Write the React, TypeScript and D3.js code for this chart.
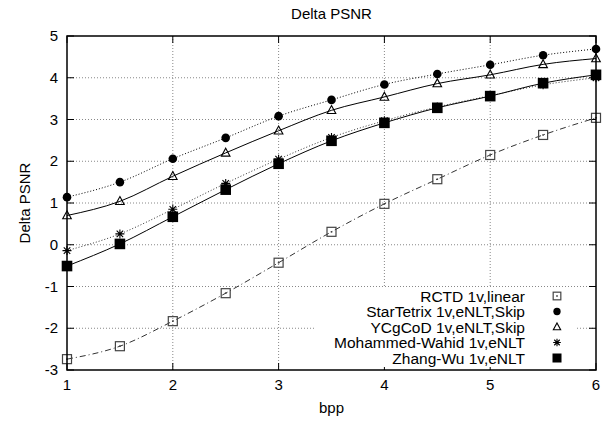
import React, { useRef, useEffect } from "react";
import * as d3 from "d3";

// bpp values shared by all series
const bpp = [1, 1.5, 2, 2.5, 3, 3.5, 4, 4.5, 5, 5.5, 6];

const rctd = [-2.74, -2.43, -1.83, -1.16, -0.43, 0.31, 0.98, 1.57, 2.15, 2.63, 3.04];
const starTetrix = [1.14, 1.5, 2.06, 2.56, 3.08, 3.47, 3.84, 4.09, 4.31, 4.54, 4.69];
const ycgcod = [0.7, 1.04, 1.64, 2.2, 2.73, 3.22, 3.54, 3.86, 4.07, 4.32, 4.46];
const mohammedWahid = [-0.14, 0.26, 0.85, 1.47, 2.05, 2.57, 2.97, 3.3, 3.57, 3.83, 4.0];
const zhangWu = [-0.51, 0.02, 0.67, 1.32, 1.94, 2.49, 2.92, 3.28, 3.56, 3.87, 4.07];

const seriesNames = [
  "RCTD 1v,linear",
  "StarTetrix 1v,eNLT,Skip",
  "YCgCoD 1v,eNLT,Skip",
  "Mohammed-Wahid 1v,eNLT",
  "Zhang-Wu 1v,eNLT",
];

const xTicks = [1, 2, 3, 4, 5, 6];
const yTicks = [-3, -2, -1, 0, 1, 2, 3, 4, 5];

const App = () => {
  const svgRef = useRef<SVGSVGElement | null>(null);

  useEffect(() => {
    const width = 605;
    const height = 422;
    const margin = { top: 36, right: 9, bottom: 52, left: 67 };
    const svg = d3.select(svgRef.current);
    svg.selectAll("*").remove();
    svg.attr("width", width).attr("height", height);

    const font = "'Liberation Sans', Arial, sans-serif";

    const x = d3.scaleLinear().domain([1, 6]).range([margin.left, width - margin.right]);
    const y = d3.scaleLinear().domain([-3, 5]).range([height - margin.bottom, margin.top]);
    const [x0, x1] = x.range();
    const [y0, y1] = y.range();

    svg.append("rect").attr("width", width).attr("height", height).attr("fill", "#fff");

    // grid
    const grid = svg.append("g").attr("stroke", "#888").attr("stroke-dasharray", "1,2").attr("stroke-width", 1);
    xTicks.slice(1, -1).forEach((t) => {
      grid.append("line").attr("x1", x(t)).attr("x2", x(t)).attr("y1", y0).attr("y2", y1);
    });
    yTicks.slice(1, -1).forEach((t) => {
      grid.append("line").attr("x1", x0).attr("x2", x1).attr("y1", y(t)).attr("y2", y(t));
    });

    // tick marks inside, on all sides
    const ticks = svg.append("g").attr("stroke", "#000").attr("stroke-width", 1);
    xTicks.forEach((t) => {
      ticks.append("line").attr("x1", x(t)).attr("x2", x(t)).attr("y1", y0).attr("y2", y0 - 7);
      ticks.append("line").attr("x1", x(t)).attr("x2", x(t)).attr("y1", y1).attr("y2", y1 + 7);
    });
    yTicks.forEach((t) => {
      ticks.append("line").attr("x1", x0).attr("x2", x0 + 7).attr("y1", y(t)).attr("y2", y(t));
      ticks.append("line").attr("x1", x1).attr("x2", x1 - 7).attr("y1", y(t)).attr("y2", y(t));
    });

    // tick labels
    svg
      .append("g")
      .selectAll("text")
      .data(xTicks)
      .enter()
      .append("text")
      .attr("x", (d) => x(d))
      .attr("y", y0 + 20)
      .attr("text-anchor", "middle")
      .style("font-family", font)
      .style("font-size", "15px")
      .text((d) => d);
    svg
      .append("g")
      .selectAll("text")
      .data(yTicks)
      .enter()
      .append("text")
      .attr("x", x0 - 9)
      .attr("y", (d) => y(d) + 5)
      .attr("text-anchor", "end")
      .style("font-family", font)
      .style("font-size", "15px")
      .text((d) => d);

    // titles
    svg
      .append("text")
      .attr("x", (x0 + x1) / 2)
      .attr("y", 19)
      .attr("text-anchor", "middle")
      .style("font-family", font)
      .style("font-size", "15px")
      .text("Delta PSNR");
    svg
      .append("text")
      .attr("x", (x0 + x1) / 2)
      .attr("y", 413)
      .attr("text-anchor", "middle")
      .style("font-family", font)
      .style("font-size", "15px")
      .text("bpp");
    svg
      .append("text")
      .attr("transform", `translate(30, ${(y0 + y1) / 2}) rotate(-90)`)
      .attr("text-anchor", "middle")
      .style("font-family", font)
      .style("font-size", "15px")
      .text("Delta PSNR");

    const series = [
      { name: seriesNames[0], values: rctd, dash: "6,3,1,3", stroke: "#333", marker: "openSquare" },
      { name: seriesNames[1], values: starTetrix, dash: "1,2", stroke: "#000", marker: "circle" },
      { name: seriesNames[2], values: ycgcod, dash: null, stroke: "#000", marker: "triangle" },
      { name: seriesNames[3], values: mohammedWahid, dash: "1,2", stroke: "#333", marker: "star" },
      { name: seriesNames[4], values: zhangWu, dash: null, stroke: "#000", marker: "square" },
    ];

    const line = d3
      .line<number>()
      .x((_, i) => x(bpp[i]))
      .y((d) => y(d))
      .curve(d3.curveMonotoneX);

    const drawMarker = (g: any, kind: string, cx: number, cy: number, k = 1) => {
      if (kind === "openSquare") {
        const h = 4.5 * k;
        g.append("rect").attr("x", cx - h).attr("y", cy - h).attr("width", 2 * h).attr("height", 2 * h)
          .attr("fill", "none").attr("stroke", "#444").attr("stroke-width", 1.2);
        g.append("rect").attr("x", cx - 0.8).attr("y", cy - 0.8).attr("width", 1.6).attr("height", 1.6).attr("fill", "#444");
      } else if (kind === "circle") {
        g.append("circle").attr("cx", cx).attr("cy", cy).attr("r", 4.3 * k).attr("fill", "#000");
      } else if (kind === "triangle") {
        const h = 4.3 * k;
        g.append("path")
          .attr("d", `M${cx},${cy - h * 1.1}L${cx + h},${cy + h * 0.75}L${cx - h},${cy + h * 0.75}Z`)
          .attr("fill", "none").attr("stroke", "#000").attr("stroke-width", 1.1);
      } else if (kind === "star") {
        const s = 4.5 * k;
        const d = s * 0.72;
        const p = `M${cx - s},${cy}L${cx + s},${cy}M${cx},${cy - s}L${cx},${cy + s}M${cx - d},${cy - d}L${cx + d},${cy + d}M${cx - d},${cy + d}L${cx + d},${cy - d}`;
        g.append("path").attr("d", p).attr("stroke", "#000").attr("stroke-width", 1.1).attr("fill", "none");
      } else if (kind === "square") {
        const h = 5.3 * k;
        g.append("rect").attr("x", cx - h).attr("y", cy - h).attr("width", 2 * h).attr("height", 2 * h).attr("fill", "#000");
      }
    };

    series.forEach((s) => {
      svg
        .append("path")
        .datum(s.values)
        .attr("d", line)
        .attr("fill", "none")
        .attr("stroke", s.stroke)
        .attr("stroke-width", 1)
        .attr("stroke-dasharray", s.dash);
      const g = svg.append("g");
      s.values.forEach((v, i) => drawMarker(g, s.marker, x(bpp[i]), y(v)));
    });

    // legend
    const legend = svg.append("g");
    legend.append("rect").attr("x", 314).attr("y", 288).attr("width", 262).attr("height", 79).attr("fill", "#fff");
    series.forEach((s, i) => {
      const ly = 296 + i * 15.5;
      legend
        .append("text")
        .attr("x", 525)
        .attr("y", ly + 5.5)
        .attr("text-anchor", "end")
        .style("font-family", font)
        .style("font-size", "15.5px")
        .text(s.name);
      drawMarker(legend, s.marker, 557, ly, 0.85);
    });

    // border
    svg
      .append("rect")
      .attr("x", x0)
      .attr("y", y1)
      .attr("width", x1 - x0)
      .attr("height", y0 - y1)
      .attr("fill", "none")
      .attr("stroke", "#000")
      .attr("stroke-width", 1.5);
  }, []);

  return <svg ref={svgRef} style={{ position: "absolute", left: 0, top: 0 }}></svg>;
};

export default App;
